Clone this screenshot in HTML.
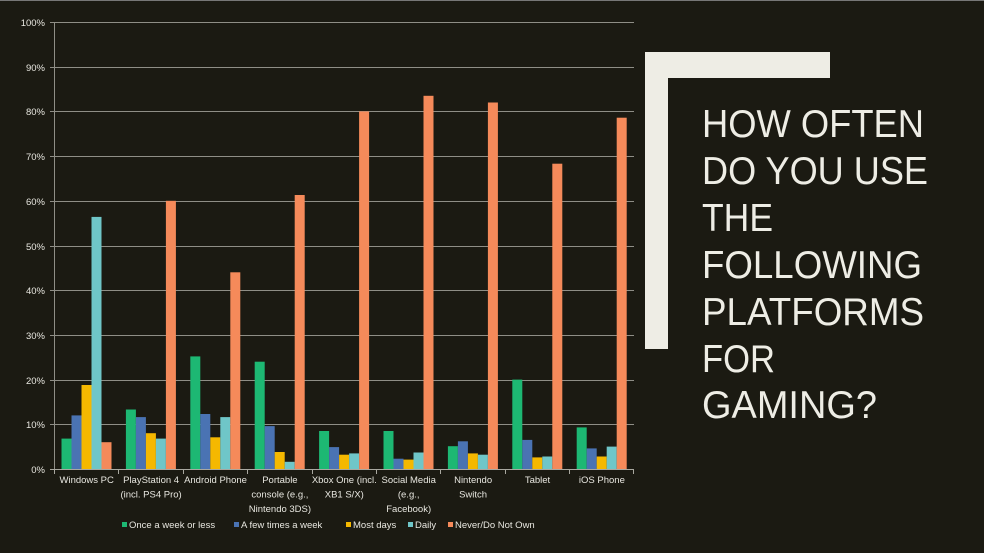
<!DOCTYPE html>
<html><head><meta charset="utf-8"><style>
html,body{margin:0;padding:0;background:#1b1a12;}
svg{display:block;}
text{font-family:"Liberation Sans",sans-serif;}
</style></head><body>
<svg width="984" height="553" viewBox="0 0 984 553" xmlns="http://www.w3.org/2000/svg">
<rect width="984" height="553" fill="#1b1a12"/>
<line x1="0" y1="0.5" x2="984" y2="0.5" stroke="#777" stroke-width="1"/>
<g stroke="#8f8e86" stroke-width="1">
<line x1="50" x2="634" y1="22.5" y2="22.5"/>
<line x1="50" x2="634" y1="67.5" y2="67.5"/>
<line x1="50" x2="634" y1="111.5" y2="111.5"/>
<line x1="50" x2="634" y1="156.5" y2="156.5"/>
<line x1="50" x2="634" y1="201.5" y2="201.5"/>
<line x1="50" x2="634" y1="246.5" y2="246.5"/>
<line x1="50" x2="634" y1="290.5" y2="290.5"/>
<line x1="50" x2="634" y1="335.5" y2="335.5"/>
<line x1="50" x2="634" y1="380.5" y2="380.5"/>
<line x1="50" x2="634" y1="424.5" y2="424.5"/>
<line x1="54.5" x2="54.5" y1="22" y2="469"/>
</g>
<g transform="translate(0,469) scale(1,-1)">
<g fill="#1db873">
<rect x="61.5" y="0" width="10" height="30.4"/><rect x="125.9" y="0" width="10" height="59.5"/><rect x="190.3" y="0" width="10" height="112.6"/><rect x="254.7" y="0" width="10" height="107.3"/><rect x="319.1" y="0" width="10" height="38"/><rect x="383.5" y="0" width="10" height="38"/><rect x="447.9" y="0" width="10" height="22.8"/><rect x="512.3" y="0" width="10" height="89.4"/><rect x="576.7" y="0" width="10" height="41.6"/>
</g>
<g fill="#4a73b3">
<rect x="71.5" y="0" width="10" height="53.6"/><rect x="135.9" y="0" width="10" height="51.9"/><rect x="200.3" y="0" width="10" height="55"/><rect x="264.7" y="0" width="10" height="42.9"/><rect x="329.1" y="0" width="10" height="21.9"/><rect x="393.5" y="0" width="10" height="10.3"/><rect x="457.9" y="0" width="10" height="27.7"/><rect x="522.3" y="0" width="10" height="29.1"/><rect x="586.7" y="0" width="10" height="20.6"/>
</g>
<g fill="#f5b800">
<rect x="81.5" y="0" width="10" height="84"/><rect x="145.9" y="0" width="10" height="35.8"/><rect x="210.3" y="0" width="10" height="31.7"/><rect x="274.7" y="0" width="10" height="17"/><rect x="339.1" y="0" width="10" height="14.3"/><rect x="403.5" y="0" width="10" height="9.4"/><rect x="467.9" y="0" width="10" height="15.6"/><rect x="532.3" y="0" width="10" height="11.6"/><rect x="596.7" y="0" width="10" height="12.5"/>
</g>
<g fill="#6fc6c8">
<rect x="91.5" y="0" width="10" height="252.1"/><rect x="155.9" y="0" width="10" height="30.4"/><rect x="220.3" y="0" width="10" height="51.9"/><rect x="284.7" y="0" width="10" height="7.2"/><rect x="349.1" y="0" width="10" height="15.6"/><rect x="413.5" y="0" width="10" height="16.5"/><rect x="477.9" y="0" width="10" height="14.3"/><rect x="542.3" y="0" width="10" height="12.5"/><rect x="606.7" y="0" width="10" height="22.4"/>
</g>
<g fill="#f58a5a">
<rect x="101.5" y="0" width="10" height="26.8"/><rect x="165.9" y="0" width="10" height="268.2"/><rect x="230.3" y="0" width="10" height="196.7"/><rect x="294.7" y="0" width="10" height="274"/><rect x="359.1" y="0" width="10" height="357.6"/><rect x="423.5" y="0" width="10" height="373.2"/><rect x="487.9" y="0" width="10" height="366.5"/><rect x="552.3" y="0" width="10" height="305.3"/><rect x="616.7" y="0" width="10" height="351.3"/>
</g>
</g>
<g stroke="#a9a8a0" stroke-width="1">
<line x1="50" x2="634" y1="469.5" y2="469.5"/>
<line x1="54.5" x2="54.5" y1="469" y2="474"/><line x1="118.5" x2="118.5" y1="469" y2="474"/><line x1="183.5" x2="183.5" y1="469" y2="474"/><line x1="247.5" x2="247.5" y1="469" y2="474"/><line x1="312.5" x2="312.5" y1="469" y2="474"/><line x1="376.5" x2="376.5" y1="469" y2="474"/><line x1="440.5" x2="440.5" y1="469" y2="474"/><line x1="505.5" x2="505.5" y1="469" y2="474"/><line x1="569.5" x2="569.5" y1="469" y2="474"/><line x1="633.5" x2="633.5" y1="469" y2="474"/>
</g>
<g fill="#e8e7e0" font-size="9.5" text-anchor="end">
<text x="45" y="26">100%</text><text x="45" y="71">90%</text><text x="45" y="115">80%</text><text x="45" y="160">70%</text><text x="45" y="205">60%</text><text x="45" y="250">50%</text><text x="45" y="294">40%</text><text x="45" y="339">30%</text><text x="45" y="384">20%</text><text x="45" y="428">10%</text><text x="45" y="473">0%</text>
</g>
<g fill="#e8e7e0" font-size="9.5" text-anchor="middle">
<text x="86.7" y="483">Windows PC</text>
<text x="151.1" y="483">PlayStation 4</text><text x="151.1" y="497.5">(incl. PS4 Pro)</text>
<text x="215.5" y="483">Android Phone</text>
<text x="279.9" y="483">Portable</text><text x="279.9" y="497.5">console (e.g.,</text><text x="279.9" y="512">Nintendo 3DS)</text>
<text x="344.3" y="483">Xbox One (incl.</text><text x="344.3" y="497.5">XB1 S/X)</text>
<text x="408.7" y="483">Social Media</text><text x="408.7" y="497.5">(e.g.,</text><text x="408.7" y="512">Facebook)</text>
<text x="473.1" y="483">Nintendo</text><text x="473.1" y="497.5">Switch</text>
<text x="537.5" y="483">Tablet</text>
<text x="601.9" y="483">iOS Phone</text>
</g>
<g font-size="9.5" fill="#e8e7e0">
<rect x="122" y="522" width="5" height="5" fill="#1db873"/><text x="129" y="528">Once a week or less</text>
<rect x="234" y="522" width="5" height="5" fill="#4a73b3"/><text x="241" y="528">A few times a week</text>
<rect x="346" y="522" width="5" height="5" fill="#f5b800"/><text x="353" y="528">Most days</text>
<rect x="408" y="522" width="5" height="5" fill="#6fc6c8"/><text x="415" y="528">Daily</text>
<rect x="448" y="522" width="5" height="5" fill="#f58a5a"/><text x="455" y="528">Never/Do Not Own</text>
</g>
<rect x="645" y="52" width="185" height="26" fill="#eeede5"/>
<rect x="645" y="52" width="23" height="297" fill="#eeede5"/>
<g fill="#eeede5" font-size="39">
<text x="702" y="137" textLength="222" lengthAdjust="spacingAndGlyphs">HOW OFTEN</text>
<text x="702" y="184" textLength="226" lengthAdjust="spacingAndGlyphs">DO YOU USE</text>
<text x="702" y="231" textLength="71" lengthAdjust="spacingAndGlyphs">THE</text>
<text x="702" y="278" textLength="220" lengthAdjust="spacingAndGlyphs">FOLLOWING</text>
<text x="702" y="325" textLength="222" lengthAdjust="spacingAndGlyphs">PLATFORMS</text>
<text x="702" y="372" textLength="73" lengthAdjust="spacingAndGlyphs">FOR</text>
<text x="702" y="418" textLength="175" lengthAdjust="spacingAndGlyphs">GAMING?</text>
</g>
</svg>
</body></html>
